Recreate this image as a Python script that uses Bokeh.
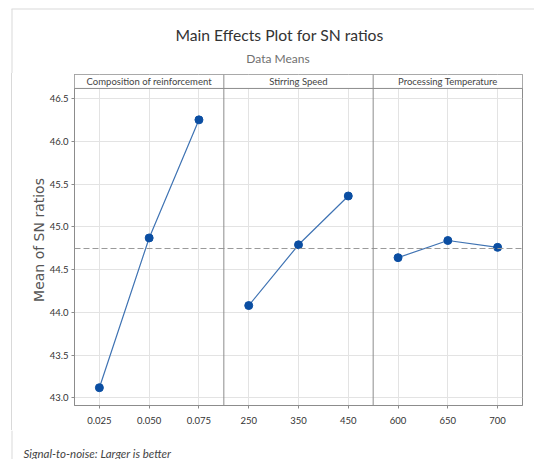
from bokeh.plotting import figure
from bokeh.layouts import column
from bokeh.models import Range1d, FixedTicker, NumeralTickFormatter, Span, Label, BoxAnnotation
from bokeh.core.properties import value
from bokeh.embed import file_html
from bokeh.resources import INLINE

# ---------------- data ----------------
factors = ["Composition of reinforcement", "Stirring Speed", "Processing Temperature"]
comp_levels = [0.025, 0.050, 0.075]
comp_labels = ["0.025", "0.050", "0.075"]
comp_means = [43.12, 44.87, 46.25]
speed_levels = [250, 350, 450]
speed_labels = ["250", "350", "450"]
speed_means = [44.08, 44.79, 45.36]
temp_levels = [600, 650, 700]
temp_labels = ["600", "650", "700"]
temp_means = [44.64, 44.84, 44.76]
y_ticks = [43.0, 43.5, 44.0, 44.5, 45.0, 45.5, 46.0, 46.5]

title_text = "Main Effects Plot for SN ratios"
subtitle_text = "Data Means"
y_label = "Mean of SN ratios"
footnote_text = "Signal-to-noise: Larger is better"

# ---------------- layout constants ----------------
W = 534
TOP_H = 73                    # title strip
MAIN_H = 357                  # main plot (frame 74..405)
FOOT_H = 29                   # footnote strip
FL, FR = 74, 522              # frame left/right
Y_LO, HEAD_LO, Y_HI = 42.912, 46.617, 46.780

GRID = "#e3e3e3"
FRAME = "#8c8c8c"
LINE_C = "#3f73b3"
MARK_C = "#0b4ea2"
FONT = "Lato"
BORDER_C = "#d9d9d9"
LEFT_LINE = {"background-image": "linear-gradient(to right, transparent 11px, "
                                 + BORDER_C + " 11px, " + BORDER_C
                                 + " 12px, transparent 12px)"}


def no_align(f):
    try:
        f.frame_align = False
    except Exception:
        pass


def strip(h):
    f = figure(width=W, height=h, output_backend="svg", toolbar_location=None,
               x_range=Range1d(0, W), y_range=Range1d(h, 0),
               min_border=0, min_border_left=0, min_border_right=0,
               min_border_top=0, min_border_bottom=0)
    f.axis.visible = False
    f.grid.visible = False
    f.outline_line_color = None
    f.background_fill_color = None
    f.border_fill_color = None
    no_align(f)
    return f


# ---------------- title strip ----------------
top = strip(TOP_H)
top.segment(x0=[11], y0=[8.5], x1=[W], y1=[8.5], line_color=BORDER_C, line_width=1)
top.segment(x0=[11.5], y0=[8.5], x1=[11.5], y1=[TOP_H], line_color=BORDER_C, line_width=1)
top.text(x=[279], y=[34.5], text=[title_text], text_align="center",
         text_baseline="middle", text_font=value(FONT), text_font_size="15.7px",
         text_color="#333333")
top.text(x=[277.5], y=[57.7], text=[subtitle_text], text_align="center",
         text_baseline="middle", text_font=value(FONT), text_font_size="12px",
         text_color="#707070")

# ---------------- main plot ----------------
panels = [(comp_levels, comp_means, comp_labels),
          (speed_levels, speed_means, speed_labels),
          (temp_levels, temp_means, temp_labels)]
n_lv = len(comp_levels)
n_pan = len(panels)
total = n_lv * n_pan

p = figure(width=W, height=MAIN_H, output_backend="svg", toolbar_location=None,
           x_range=Range1d(-0.5, total - 0.5), y_range=Range1d(Y_LO, Y_HI),
           min_border_left=FL, min_border_right=W - FR,
           min_border_top=1, min_border_bottom=25)
no_align(p)
p.background_fill_color = "white"
p.border_fill_color = None
p.outline_line_color = FRAME
p.outline_line_width = 1
p.styles = LEFT_LINE

tick_pos = []
tick_lab = []
for i, (lv, mv, lab) in enumerate(panels):
    d = lv[1] - lv[0]
    start = lv[0] + (-0.5 - n_lv * i) * d
    end = lv[0] + (total - 0.5 - n_lv * i) * d
    name = f"f{i}"
    p.extra_x_ranges[name] = Range1d(start, end)
    p.line(lv, mv, x_range_name=name, line_color=LINE_C, line_width=1.2)
    p.scatter(lv, mv, x_range_name=name, size=8, marker="circle",
              fill_color=MARK_C, line_color=MARK_C)
    for k, v in enumerate(lv):
        tick_pos.append(int(round(n_lv * i + (v - lv[0]) / d)))
        tick_lab.append(lab[k])

grand_mean = sum(comp_means) / len(comp_means)
p.add_layout(Span(location=grand_mean, dimension="width", line_color="#9a9a9a",
                  line_dash="6 3", line_width=1))

# header band
p.add_layout(BoxAnnotation(bottom=HEAD_LO, fill_color="white", fill_alpha=1,
                           line_color=None))
p.add_layout(Span(location=HEAD_LO, dimension="width", line_color=FRAME, line_width=1))
for i, f in enumerate(factors):
    p.add_layout(Label(x=n_lv * i + (n_lv - 1) / 2, y=(HEAD_LO + Y_HI) / 2, text=f,
                       text_align="center", text_baseline="middle",
                       text_font=FONT, text_font_size="9.5px", text_font_style="normal",
                       text_color="#444444"))
for i in range(1, n_pan):
    p.add_layout(Span(location=n_lv * i - 0.5, dimension="height",
                      line_color=FRAME, line_width=1))

p.xaxis.ticker = FixedTicker(ticks=tick_pos)
p.xaxis.major_label_overrides = {t: l for t, l in zip(tick_pos, tick_lab)}
p.yaxis.ticker = FixedTicker(ticks=y_ticks)
p.yaxis.formatter = NumeralTickFormatter(format="0.0")
p.yaxis.axis_label = y_label
p.yaxis.axis_label_text_font = "DejaVu Sans"
p.yaxis.axis_label_text_font_size = "14px"
p.yaxis.axis_label_text_font_style = "normal"
p.yaxis.axis_label_text_color = "#555555"
p.yaxis.axis_label_standoff = 0
for ax in (p.xaxis[0], p.yaxis[0]):
    ax.axis_line_color = FRAME
    ax.major_tick_line_color = FRAME
    ax.major_tick_out = 3
    ax.major_tick_in = 0
    ax.minor_tick_line_color = None
    ax.major_label_text_font = FONT
    ax.major_label_text_font_size = "9.5px"
    ax.major_label_text_color = "#333333"
    ax.major_label_standoff = 3
p.xaxis.major_label_standoff = 8

p.grid.grid_line_color = GRID
p.grid.grid_line_width = 1

# ---------------- footnote strip ----------------
foot = strip(FOOT_H)
foot.segment(x0=[11.5], y0=[0], x1=[11.5], y1=[FOOT_H], line_color=BORDER_C, line_width=1)
foot.text(x=[23], y=[23], text=[footnote_text], text_align="left",
          text_baseline="middle", text_font=value(FONT), text_font_size="11.5px",
          text_font_style="italic", text_color="#444444")

layout = column(top, p, foot, spacing=0)

open("out.html", "w").write(file_html(layout, INLINE))
